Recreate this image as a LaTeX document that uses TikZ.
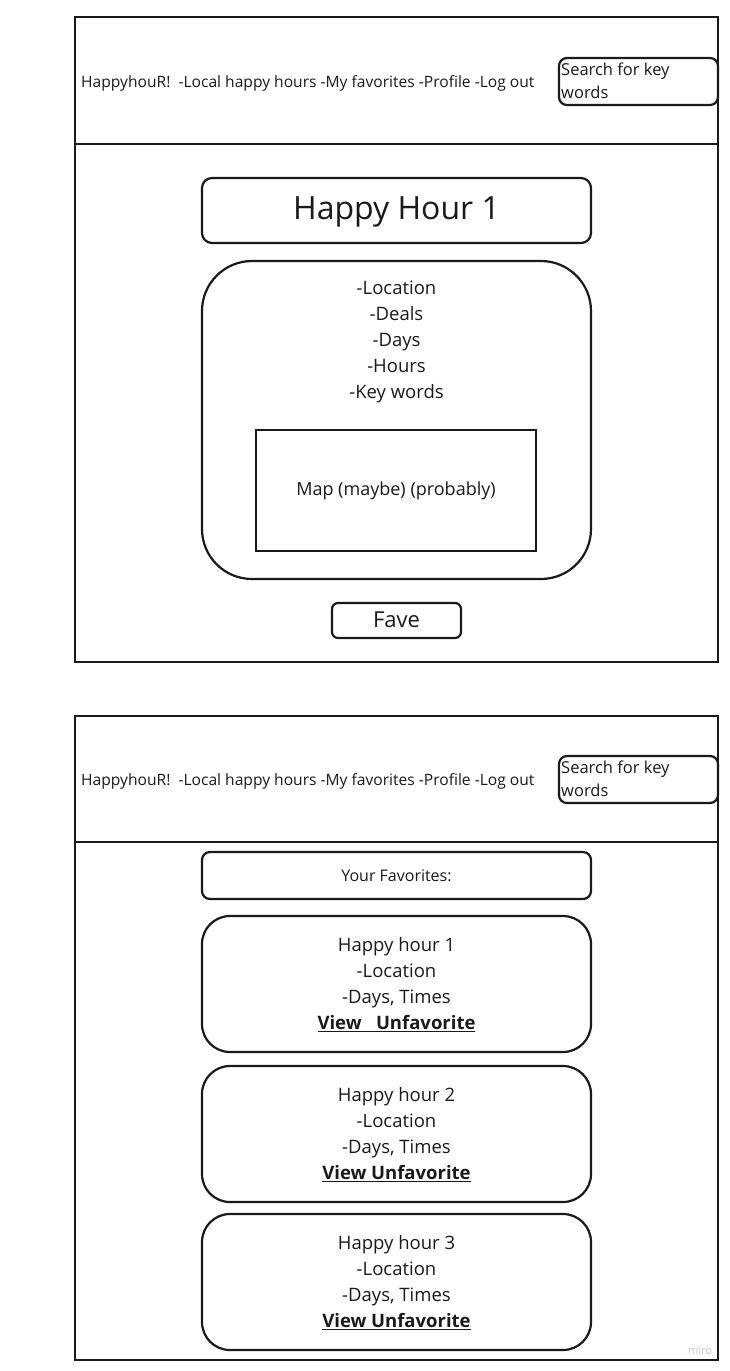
\documentclass[tikz,border=0pt]{standalone}
\usepackage{fontspec}
\setmainfont{Open Sans}
\definecolor{ink}{HTML}{1A1A1A}
\begin{document}
\begin{tikzpicture}[x=1pt,y=-1pt,
  frame/.style={draw=ink,line width=2.5pt},
  box/.style={draw=ink,line width=2.2pt},
  hdr/.style={anchor=west,inner sep=0pt,font=\fontsize{15.6}{18}\selectfont,text=ink},
  srch/.style={anchor=north west,inner sep=0pt,align=left,font=\fontsize{16.5}{23}\selectfont,text=ink},
  lbl/.style={inner sep=0pt,align=center,text=ink}]
\useasboundingbox (0,0) rectangle (729,1371);
\fill[white] (0,0) rectangle (729,1371);
% ---------- top screen ----------
\draw[frame] (75,17) rectangle (718,662);
\draw[frame] (75,144) -- (718,144);
\node[hdr] (nav1) at (81,83) {HappyhouR!\ \ -Local happy hours -My favorites -Profile -Log out};
\draw[box,rounded corners=8pt] (559,58) rectangle (718,105);
\node[srch] (s1) at (561,63) {Search for key\\words};
\draw[box,rounded corners=10pt] (202,178) rectangle (591,243);
\node[lbl,font=\fontsize{32}{36}\selectfont] (t1) at (396.5,212) {Happy Hour 1};
\draw[box,rounded corners=50pt] (202,261) rectangle (591,579);
\node[lbl,anchor=north,font=\fontsize{18.5}{26}\selectfont] (info) at (396.5,281) {-Location\\-Deals\\-Days\\-Hours\\-Key words};
\draw[box] (256,430) rectangle (536,551);
\node[lbl,font=\fontsize{18}{22}\selectfont] (map) at (396,491) {Map (maybe) (probably)};
\draw[box,rounded corners=6pt] (332,603) rectangle (461,638);
\node[lbl,font=\fontsize{22}{26}\selectfont] (fave) at (396.5,620) {Fave};
% ---------- bottom screen ----------
\draw[frame] (75,716) rectangle (718,1360);
\draw[frame] (75,842) -- (718,842);
\node[hdr] (nav2) at (81,781) {HappyhouR!\ \ -Local happy hours -My favorites -Profile -Log out};
\draw[box,rounded corners=8pt] (559,756) rectangle (718,803);
\node[srch] (s2) at (561,761) {Search for key\\words};
\draw[box,rounded corners=8pt] (202,852) rectangle (591,899);
\node[lbl,font=\fontsize{16}{20}\selectfont] (yf) at (396.5,876) {Your Favorites:};
\foreach \top/\n/\v in {916/1/{View\ \ \ Unfavorite},1066/2/{View Unfavorite},1214/3/{View Unfavorite}}{
  \draw[box,rounded corners=28pt] (202,\top) rectangle (591,\top+136);
  \node[lbl,anchor=north,font=\fontsize{18.5}{26}\selectfont] (card\n) at (396.5,\top+21)
    {Happy hour \n\\-Location\\-Days, Times\\\underline{\textbf{\v}}};
}
\node[inner sep=0pt,text=black!22,font=\fontsize{11}{12}\selectfont] (miro) at (700,1350) {miro};
\end{tikzpicture}
\end{document}
